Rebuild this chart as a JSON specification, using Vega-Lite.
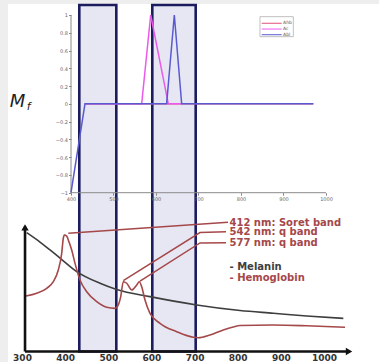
{
  "$schema": "https://vega.github.io/schema/vega-lite/v6.json",
  "width": 379,
  "height": 362,
  "autosize": {"type": "none"},
  "padding": 0,
  "background": "#eeeeee",
  "config": {
    "view": {"stroke": null},
    "axis": {"grid": false, "title": null, "labelFont": "DejaVu Sans"},
    "text": {"font": "DejaVu Sans"}
  },
  "layer": [
    {
      "encoding": {
        "x": {
          "field": "x", "type": "quantitative",
          "scale": {"domain": [249.0, 1127.5], "nice": false, "zero": false},
          "axis": {
            "orient": "bottom", "offset": -10.5,
            "values": [300, 400, 500, 600, 700, 800, 900, 1000],
            "format": "d",
            "domain": false, "ticks": false, "labelPadding": 1.5,
            "labelFontSize": 9, "labelFontWeight": "bold", "labelColor": "#333333",
            "labelFlush": false, "labelOverlap": false, "title": null, "grid": false, "zindex": 1
          }
        },
        "y": {
          "field": "y", "type": "quantitative",
          "scale": {"domain": [-0.0808, 2.7038], "nice": false, "zero": false},
          "axis": null
        }
      },
      "layer": [
        {
          "data": {"values": [{"x": 267.5, "x2": 1127.5, "y": -0.0808, "y2": 2.673}]},
          "mark": {"type": "rect", "fill": "#ffffff"},
          "encoding": {"x2": {"field": "x2"}, "y2": {"field": "y2"}}
        },
        {
          "data": {"values": [
            {"band": "blue", "x": 432.8, "x2": 518.6, "y": 0, "y2": 2.665},
            {"band": "red", "x": 602.0, "x2": 702.6, "y": 0, "y2": 2.665}
          ]},
          "mark": {"type": "rect", "fill": "#e6e7f3", "stroke": "#1c1c5e", "strokeWidth": 2.6},
          "encoding": {"x2": {"field": "x2"}, "y2": {"field": "y2"}}
        },
        {
          "data": {"values": [
            {"s": "Melanin", "x": 310.9, "y": 0.914},
            {"s": "Melanin", "x": 341.7, "y": 0.842},
            {"s": "Melanin", "x": 364.9, "y": 0.781},
            {"s": "Melanin", "x": 388.1, "y": 0.719},
            {"s": "Melanin", "x": 426.8, "y": 0.615},
            {"s": "Melanin", "x": 480.8, "y": 0.525},
            {"s": "Melanin", "x": 519.5, "y": 0.477},
            {"s": "Melanin", "x": 596.7, "y": 0.422},
            {"s": "Melanin", "x": 705.0, "y": 0.358},
            {"s": "Melanin", "x": 805.3, "y": 0.315},
            {"s": "Melanin", "x": 882.5, "y": 0.294},
            {"s": "Melanin", "x": 959.9, "y": 0.273},
            {"s": "Melanin", "x": 1044.8, "y": 0.255},
            {"s": "Hemoglobin", "x": 309.3, "y": 0.427},
            {"s": "Hemoglobin", "x": 334.1, "y": 0.448},
            {"s": "Hemoglobin", "x": 357.3, "y": 0.486},
            {"s": "Hemoglobin", "x": 372.6, "y": 0.537},
            {"s": "Hemoglobin", "x": 384.1, "y": 0.627},
            {"s": "Hemoglobin", "x": 392.0, "y": 0.755},
            {"s": "Hemoglobin", "x": 395.7, "y": 0.871},
            {"s": "Hemoglobin", "x": 398.1, "y": 0.896},
            {"s": "Hemoglobin", "x": 403.6, "y": 0.888},
            {"s": "Hemoglobin", "x": 407.3, "y": 0.858},
            {"s": "Hemoglobin", "x": 415.2, "y": 0.781},
            {"s": "Hemoglobin", "x": 422.9, "y": 0.678},
            {"s": "Hemoglobin", "x": 434.4, "y": 0.55},
            {"s": "Hemoglobin", "x": 450.0, "y": 0.46},
            {"s": "Hemoglobin", "x": 473.2, "y": 0.383},
            {"s": "Hemoglobin", "x": 496.3, "y": 0.34},
            {"s": "Hemoglobin", "x": 515.6, "y": 0.332},
            {"s": "Hemoglobin", "x": 523.2, "y": 0.358},
            {"s": "Hemoglobin", "x": 528.8, "y": 0.422},
            {"s": "Hemoglobin", "x": 534.8, "y": 0.537},
            {"s": "Hemoglobin", "x": 542.7, "y": 0.525},
            {"s": "Hemoglobin", "x": 554.3, "y": 0.473},
            {"s": "Hemoglobin", "x": 565.9, "y": 0.512},
            {"s": "Hemoglobin", "x": 571.9, "y": 0.537},
            {"s": "Hemoglobin", "x": 577.5, "y": 0.498},
            {"s": "Hemoglobin", "x": 585.1, "y": 0.396},
            {"s": "Hemoglobin", "x": 596.7, "y": 0.294},
            {"s": "Hemoglobin", "x": 619.9, "y": 0.217},
            {"s": "Hemoglobin", "x": 658.6, "y": 0.152},
            {"s": "Hemoglobin", "x": 697.1, "y": 0.109},
            {"s": "Hemoglobin", "x": 708.7, "y": 0.106},
            {"s": "Hemoglobin", "x": 735.8, "y": 0.127},
            {"s": "Hemoglobin", "x": 766.6, "y": 0.165},
            {"s": "Hemoglobin", "x": 789.8, "y": 0.188},
            {"s": "Hemoglobin", "x": 805.3, "y": 0.2},
            {"s": "Hemoglobin", "x": 882.5, "y": 0.204},
            {"s": "Hemoglobin", "x": 959.9, "y": 0.198},
            {"s": "Hemoglobin", "x": 1048.7, "y": 0.186}
          ]},
          "mark": {"type": "line", "strokeWidth": 1.6, "interpolate": "monotone"},
          "encoding": {
            "color": {"field": "s", "type": "nominal", "scale": {"domain": ["Melanin", "Hemoglobin"], "range": ["#3e3e3e", "#a5484a"]}, "legend": null}
          }
        },
        {
          "data": {"values": [
            {"band": "412", "x": 407.3, "y": 0.909},
            {"band": "412", "x": 777.5, "y": 0.994},
            {"band": "542", "x": 534.8, "y": 0.546},
            {"band": "542", "x": 712.6, "y": 0.915},
            {"band": "542", "x": 772.9, "y": 0.922},
            {"band": "577", "x": 573.5, "y": 0.542},
            {"band": "577", "x": 712.6, "y": 0.835},
            {"band": "577", "x": 772.9, "y": 0.837}
          ]},
          "mark": {"type": "line", "strokeWidth": 1.5, "color": "#a5484a"},
          "encoding": {"detail": {"field": "band"}}
        },
        {
          "data": {"values": [
            {"x": 307, "y": 0, "x2": 1058, "y2": 0},
            {"x": 307, "y": 0, "x2": 307, "y2": 0.96}
          ]},
          "mark": {"type": "rule", "strokeWidth": 2.6, "color": "#111111"},
          "encoding": {"x2": {"field": "x2"}, "y2": {"field": "y2"}}
        },
        {
          "data": {"values": [
            {"dir": "up", "x": 307, "y": 0.955},
            {"dir": "right", "x": 1058, "y": 0}
          ]},
          "mark": {"type": "point", "filled": true, "opacity": 1, "size": 55, "color": "#111111"},
          "encoding": {
            "shape": {"field": "dir", "type": "nominal", "scale": {"domain": ["up", "right"], "range": ["triangle-up", "triangle-right"]}, "legend": null}
          }
        },
        {
          "data": {"values": [
            {"s": "Hemoglobin", "t": "412 nm: Soret band", "x": 781.0, "y": 0.991},
            {"s": "Hemoglobin", "t": "542 nm: q band", "x": 781.0, "y": 0.917},
            {"s": "Hemoglobin", "t": "577 nm: q band", "x": 781.0, "y": 0.837},
            {"s": "Melanin", "t": "- Melanin", "x": 781.0, "y": 0.652},
            {"s": "Hemoglobin", "t": "- Hemoglobin", "x": 781.0, "y": 0.568}
          ]},
          "mark": {"type": "text", "align": "left", "baseline": "middle", "fontSize": 10, "fontWeight": "bold", "font": "DejaVu Sans"},
          "encoding": {
            "text": {"field": "t"},
            "color": {"field": "s", "type": "nominal", "scale": {"domain": ["Melanin", "Hemoglobin"], "range": ["#3a3a3a", "#963a3c"]}, "legend": null}
          }
        }
      ]
    },
    {
      "encoding": {
        "x": {
          "field": "x", "type": "quantitative",
          "scale": {"domain": [232.94, 1124.71], "nice": false, "zero": false},
          "axis": {
            "orient": "bottom", "offset": -169.3,
            "values": [400, 500, 600, 700, 800, 900, 1000],
            "format": "d",
            "domain": false, "tickSize": 2.5, "tickColor": "#888888", "labelPadding": 1,
            "labelFontSize": 5, "labelColor": "#666666", "labelFlush": false, "labelOverlap": false,
            "title": null, "grid": false, "zindex": 1
          }
        },
        "y": {
          "field": "y", "type": "quantitative",
          "scale": {"domain": [-2.9055, 1.1688], "nice": false, "zero": false},
          "axis": {
            "orient": "left", "offset": -71,
            "values": [-1, -0.8, -0.6, -0.4, -0.2, 0, 0.2, 0.4, 0.6, 0.8, 1],
            "format": "~g",
            "domain": false, "tickSize": 2.5, "tickColor": "#888888", "labelPadding": 1,
            "labelFontSize": 5, "labelColor": "#666666", "labelFlush": false, "labelOverlap": false,
            "title": null, "grid": false, "zindex": 1
          }
        }
      },
      "layer": [
        {
          "data": {"values": [
            {"x": 400, "y": -1, "x2": 1000, "y2": -1},
            {"x": 400, "y": -1, "x2": 400, "y2": 1}
          ]},
          "mark": {"type": "rule", "strokeWidth": 1, "color": "#8a8a8a"},
          "encoding": {"x2": {"field": "x2"}, "y2": {"field": "y2"}}
        },
        {
          "data": {"values": [
            {"g": "hb", "s": "Ahb", "x": 432.9, "y": 0},
            {"g": "hb", "s": "Ahb", "x": 970.2, "y": 0},
            {"g": "c", "s": "Ac", "x": 432.9, "y": 0},
            {"g": "c", "s": "Ac", "x": 566.3, "y": 0},
            {"g": "c", "s": "Ac", "x": 587.5, "y": 1},
            {"g": "c", "s": "Ac", "x": 629.0, "y": 0},
            {"g": "c", "s": "Ac", "x": 660.4, "y": 0},
            {"g": "bl", "s": "Abl", "x": 400, "y": -1},
            {"g": "bl", "s": "Abl", "x": 432.9, "y": 0},
            {"g": "bl", "s": "Abl", "x": 452.5, "y": 0},
            {"g": "bl", "s": "Abl", "x": 469.8, "y": 0},
            {"g": "bl", "s": "Abl", "x": 505.1, "y": 0},
            {"g": "bl", "s": "Abl", "x": 524.7, "y": 0},
            {"g": "bl", "s": "Abl", "x": 593.7, "y": 0},
            {"g": "bl", "s": "Abl", "x": 625.0, "y": 0},
            {"g": "bl", "s": "Abl", "x": 643.1, "y": 1},
            {"g": "bl", "s": "Abl", "x": 660.4, "y": 0},
            {"g": "bl", "s": "Abl", "x": 695.7, "y": 0},
            {"g": "bl", "s": "Abl", "x": 742.7, "y": 0},
            {"g": "bl", "s": "Abl", "x": 778.0, "y": 0},
            {"g": "bl", "s": "Abl", "x": 813.4, "y": 0},
            {"g": "bl", "s": "Abl", "x": 848.7, "y": 0},
            {"g": "bl", "s": "Abl", "x": 868.2, "y": 0},
            {"g": "bl", "s": "Abl", "x": 891.8, "y": 0},
            {"g": "bl", "s": "Abl", "x": 934.9, "y": 0},
            {"g": "bl", "s": "Abl", "x": 970.2, "y": 0}
          ]},
          "mark": {"type": "line", "strokeWidth": 1.5},
          "encoding": {
            "detail": {"field": "g"},
            "color": {"field": "s", "type": "nominal", "scale": {"domain": ["Ahb", "Ac", "Abl"], "range": ["#e0507a", "#ea5aea", "#5a5ad0"]}, "legend": null}
          }
        },
        {
          "data": {"values": [{"x": 844.7, "x2": 923.1, "y": 0.756, "y2": 0.981}]},
          "mark": {"type": "rect", "fill": "#ffffff", "stroke": "#b0b0b0", "strokeWidth": 0.8},
          "encoding": {"x2": {"field": "x2"}, "y2": {"field": "y2"}}
        },
        {
          "data": {"values": [
            {"s": "Ahb", "x": 848.7, "y": 0.907},
            {"s": "Ahb", "x": 895.8, "y": 0.907},
            {"s": "Ac", "x": 848.7, "y": 0.842},
            {"s": "Ac", "x": 895.8, "y": 0.842},
            {"s": "Abl", "x": 848.7, "y": 0.778},
            {"s": "Abl", "x": 895.8, "y": 0.778}
          ]},
          "mark": {"type": "line", "strokeWidth": 1},
          "encoding": {
            "color": {"field": "s", "type": "nominal", "scale": {"domain": ["Ahb", "Ac", "Abl"], "range": ["#e0507a", "#ea5aea", "#5a5ad0"]}, "legend": null}
          }
        },
        {
          "data": {"values": [
            {"t": "Ahb", "x": 899.0, "y": 0.907},
            {"t": "Ac", "x": 899.0, "y": 0.842},
            {"t": "Abl", "x": 899.0, "y": 0.778}
          ]},
          "mark": {"type": "text", "align": "left", "baseline": "middle", "fontSize": 4.5, "color": "#555555"},
          "encoding": {"text": {"field": "t"}}
        },
        {
          "data": {"values": [{"t": "M", "x": 274.1, "y": 0.026}]},
          "mark": {"type": "text", "align": "center", "baseline": "middle", "fontSize": 18, "fontStyle": "italic", "color": "#222222"},
          "encoding": {"text": {"field": "t"}}
        },
        {
          "data": {"values": [{"t": "f", "x": 300.5, "y": -0.035}]},
          "mark": {"type": "text", "align": "center", "baseline": "middle", "fontSize": 11, "fontStyle": "italic", "color": "#222222"},
          "encoding": {"text": {"field": "t"}}
        }
      ]
    }
  ],
  "resolve": {
    "scale": {"x": "independent", "y": "independent", "color": "independent", "shape": "independent"},
    "axis": {"x": "independent", "y": "independent"}
  }
}
